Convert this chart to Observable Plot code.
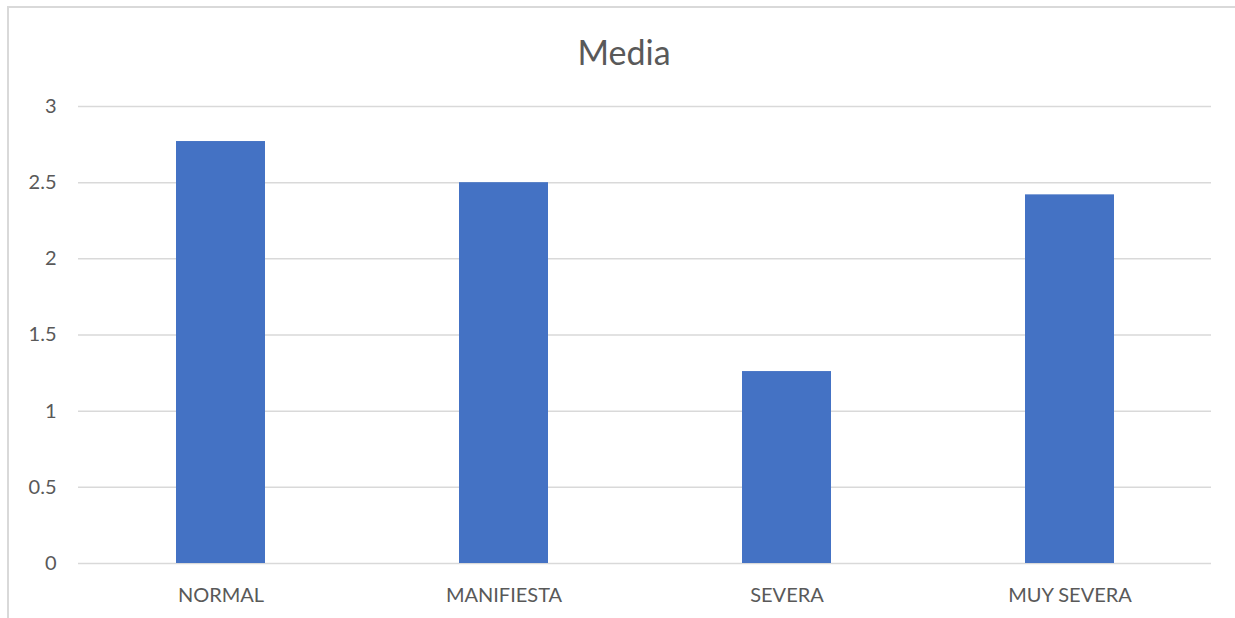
<!DOCTYPE html>
<html>
<head>
<meta charset="utf-8">
<script src="https://cdn.jsdelivr.net/npm/d3@7"></script>
<script src="https://cdn.jsdelivr.net/npm/@observablehq/plot@0.6"></script>
<style>
  html, body { margin: 0; padding: 0; background: #fff; overflow: hidden; }
  #wrap { position: relative; width: 1235px; height: 618px; font-family: Lato, "Open Sans", sans-serif; }
  #frame { position: absolute; left: 7px; top: 6px; width: 1400px; height: 800px; border: 2px solid #d9d9d9; box-sizing: border-box; pointer-events: none; }
  #title { position: absolute; left: 0; width: 1248px; top: 31px; text-align: center; font-size: 34px; color: #595959; }
  #chart { position: absolute; left: 0; top: 0; }
</style>
</head>
<body>
<div id="wrap">
  <div id="frame"></div>
  <div id="title">Media</div>
  <div id="chart"></div>
</div>
<script>
const categories = ["NORMAL", "MANIFIESTA", "SEVERA", "MUY SEVERA"];
const values = [2.77, 2.5, 1.26, 2.42];
const yTicks = [0, 0.5, 1, 1.5, 2, 2.5, 3];
const yTickLabels = ["0", "0.5", "1", "1.5", "2", "2.5", "3"];

const data = categories.map((c, i) => ({category: c, value: values[i]}));

const chart = Plot.plot({
  width: 1235,
  height: 618,
  marginLeft: 78,
  marginRight: 24,
  marginTop: 106,
  marginBottom: 55,
  style: {fontFamily: "Lato, 'Open Sans', sans-serif", fontSize: "20px", color: "#595959", background: "transparent", overflow: "visible"},
  x: {domain: categories, paddingInner: 0.687, paddingOuter: 0.3435, label: null, tickSize: 0, tickPadding: 24},
  y: {domain: [0, 3], ticks: yTicks, tickFormat: (d) => yTickLabels[yTicks.indexOf(d)], label: null, tickSize: 0, tickPadding: 22},
  marks: [
    Plot.ruleY(yTicks, {stroke: "#d9d9d9", strokeWidth: 1.5, strokeOpacity: 1}),
    Plot.barY(data, {x: "category", y: "value", fill: "#4472C4"})
  ]
});
document.getElementById("chart").appendChild(chart);
</script>
</body>
</html>
